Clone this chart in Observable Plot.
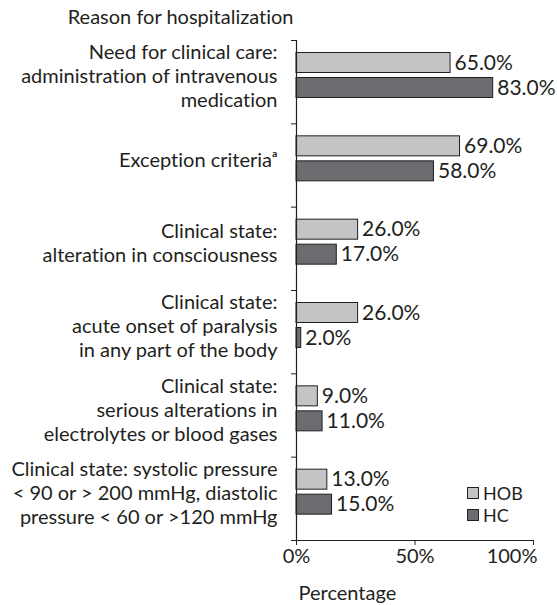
<!DOCTYPE html>
<html>
<head>
<meta charset="utf-8">
<script src="https://cdn.jsdelivr.net/npm/d3@7"></script>
<script src="https://cdn.jsdelivr.net/npm/@observablehq/plot@0.6"></script>
<style>
  html, body { margin: 0; padding: 0; background: #fff; }
  #wrap { position: relative; width: 557px; height: 605px; font-family: Lato, "Open Sans", sans-serif; color: #231f20; font-variant-ligatures: none; }
  svg text { font-variant-ligatures: none; }
  #legend { position: absolute; left: 467px; top: 482px; font-size: 18px; line-height: 22px; }
  #legend .row { display: flex; align-items: center; height: 22px; }
  #legend .sw { width: 12px; height: 12px; border: 1px solid #231f20; margin-right: 4px; box-sizing: border-box; }
</style>
</head>
<body>
<div id="wrap"><div id="chart"></div>
  <div id="legend"></div>
</div>
<script>
const categories = [
  "Need for clinical care:\nadministration of intravenous\nmedication",
  "Exception criteria\u1d43",
  "Clinical state:\nalteration in consciousness",
  "Clinical state:\nacute onset of paralysis\nin any part of the body",
  "Clinical state:\nserious alterations in\nelectrolytes or blood gases",
  "Clinical state: systolic pressure\n< 90 or > 200 mmHg, diastolic\npressure < 60 or >120 mmHg"
];
const series = ["HOB", "HC"];
const hobValues = [65, 69, 26, 26, 9, 13];
const hcValues = [83, 58, 17, 2, 11, 15];
const xTicks = [0, 50, 100];
const yTitle = "Reason for hospitalization";
const xTitle = "Percentage";

const colors = {HOB: "#c4c4c6", HC: "#6b6c6f"};
const ink = "#231f20";
const fs = 20;

// layout of each bar within a category band (fraction of band)
const barSlots = {HOB: [0.15, 0.39], HC: [0.45, 0.69]};

const rows = [];
categories.forEach((c, i) => {
  rows.push({cat: c, idx: i, series: "HOB", value: hobValues[i]});
  rows.push({cat: c, idx: i, series: "HC", value: hcValues[i]});
});
const labelRows = categories.map((c, i) => ({cat: c, idx: i}));
const lastTick = xTicks[xTicks.length - 1];

const plot = Plot.plot({
  width: 557,
  height: 605,
  marginTop: 40,
  marginBottom: 65,
  marginLeft: 296,
  marginRight: 24,
  style: {fontFamily: "Lato, 'Open Sans', sans-serif", fontSize: fs + "px", color: ink, background: "#fff"},
  x: {domain: [0, 100]},
  y: {domain: [0, categories.length], reverse: true},
  marks: [
    Plot.rectX(rows, {
      x1: 0,
      x2: "value",
      y1: d => d.idx + barSlots[d.series][0],
      y2: d => d.idx + barSlots[d.series][1],
      fill: d => colors[d.series],
      stroke: ink,
      strokeWidth: 1
    }),
    Plot.text(rows, {
      x: "value",
      y: d => d.idx + (barSlots[d.series][0] + barSlots[d.series][1]) / 2,
      text: d => d.value.toFixed(1) + "%",
      textAnchor: "start",
      dx: 4,
      fontSize: 21,
      fill: ink
    }),
    Plot.text(labelRows, {
      x: 0,
      y: d => d.idx + 0.42,
      text: "cat",
      textAnchor: "end",
      lineAnchor: "middle",
      lineHeight: 1.2,
      dx: -19,
      fontSize: fs,
      fill: ink
    }),
    Plot.axisY({ticks: d3.range(categories.length + 1), tickFormat: () => "", tickSize: 5, label: null, stroke: ink}),
    Plot.ruleX([0], {stroke: ink, strokeWidth: 1.2}),
    Plot.ruleY([categories.length], {stroke: ink, strokeWidth: 1.2, insetLeft: -3}),
    Plot.axisX({ticks: xTicks, tickFormat: () => "", tickSize: 5, label: null, stroke: ink}),
    Plot.axisX({ticks: xTicks.filter(t => t !== lastTick), tickFormat: d => d + "%", tickSize: 0, tickPadding: 8, label: null, fontSize: fs, fill: ink}),
    Plot.axisX({ticks: [lastTick], tickFormat: d => d + "%", tickSize: 0, tickPadding: 8, label: null, fontSize: fs, fill: ink, textAnchor: "end", dx: 4}),
    Plot.text([yTitle], {x: 0, y: 0, text: d => d, textAnchor: "end", dx: -3, dy: -23, fontSize: fs, fill: ink}),
    Plot.text([xTitle], {x: 0, y: categories.length, text: d => d, textAnchor: "start", dx: 2, dy: 53, fontSize: fs, fill: ink})
  ]
});
document.getElementById("chart").appendChild(plot);

const legend = document.getElementById("legend");
series.forEach(s => {
  const row = document.createElement("div");
  row.className = "row";
  const sw = document.createElement("div");
  sw.className = "sw";
  sw.style.background = colors[s];
  const t = document.createElement("span");
  t.textContent = s;
  row.appendChild(sw);
  row.appendChild(t);
  legend.appendChild(row);
});
</script>
</body>
</html>
